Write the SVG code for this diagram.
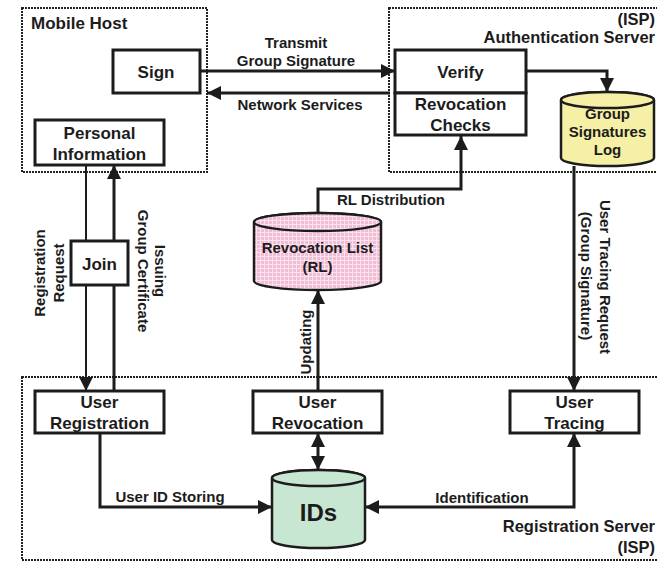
<svg xmlns="http://www.w3.org/2000/svg" width="657" height="561" viewBox="0 0 657 561">
<style>
text{font-family:"Liberation Sans",Arial,sans-serif;font-weight:bold;fill:#1c1c1c}
.n{font-size:17px;text-anchor:middle}
.l{font-size:15px;text-anchor:middle}
.t{font-size:17px}
.r{font-size:16.5px;text-anchor:end}
.box{fill:#fff;stroke:#1c1c1c;stroke-width:3}
.zone{fill:none;stroke:#222;stroke-width:2;stroke-dasharray:2 1}
.c{fill:none;stroke:#1c1c1c;stroke-width:3}
.cyl{stroke:#1c1c1c;stroke-width:2.5}
</style>
<defs>
<marker id="ah" markerUnits="userSpaceOnUse" markerWidth="14" markerHeight="14" refX="12" refY="6" orient="auto-start-reverse" viewBox="0 0 12 12">
<path d="M0,0 L12,6 L0,12 z" fill="#1c1c1c"/>
</marker>
<pattern id="grid" width="4" height="4" patternUnits="userSpaceOnUse">
<rect width="4" height="4" fill="#f0bcd6"/>
<path d="M0,0.5 H4 M0.5,0 V4" stroke="#fbe3ee" stroke-width="1"/>
</pattern>
</defs>

<g id="zones">
<rect id="mobile-host" class="zone" x="22" y="8" width="185" height="164"/>
<rect id="auth-server" class="zone" x="389" y="8" width="320" height="164"/>
<rect id="reg-server" class="zone" x="22" y="377" width="700" height="183"/>
<text class="t" x="31" y="29">Mobile Host</text>
<text class="r" x="655" y="25">(ISP)</text>
<text class="r" x="655" y="43">Authentication Server</text>
<text class="r" x="655" y="532">Registration Server</text>
<text class="r" x="655" y="553">(ISP)</text>
</g>

<g id="connectors">
<path class="c" d="M200,71 H395" marker-end="url(#ah)"/>
<path class="c" d="M390,93 H207" marker-end="url(#ah)"/>
<path class="c" d="M526,71 H607 V92" marker-end="url(#ah)"/>
<path class="c" d="M318,213 V189 H461 V136" marker-end="url(#ah)"/>
<path class="c" d="M318,391 V290" marker-end="url(#ah)"/>
<path class="c" style="stroke-width:2" d="M86,165 V391" marker-end="url(#ah)"/>
<path class="c" d="M114,391 V165" marker-end="url(#ah)"/>
<path class="c" d="M318,433 V470" marker-start="url(#ah)" marker-end="url(#ah)"/>
<path class="c" d="M100,433 V507 H272" marker-end="url(#ah)"/>
<path class="c" d="M365,507 H574 V433" marker-start="url(#ah)" marker-end="url(#ah)"/>
<path class="c" d="M574,166 V391" marker-end="url(#ah)"/>
<text class="l" x="296" y="48">Transmit</text>
<text class="l" x="296" y="66">Group Signature</text>
<text class="l" x="300" y="110">Network Services</text>
<text class="l" x="391" y="205">RL Distribution</text>
<text class="l" transform="translate(311,342) rotate(-90)">Updating</text>
<text class="l" transform="translate(45,273) rotate(-90)">Registration</text>
<text class="l" transform="translate(64,273) rotate(-90)">Request</text>
<text class="l" transform="translate(155,271) rotate(90)">Issuing</text>
<text class="l" transform="translate(138,271) rotate(90)">Group Certificate</text>
<text class="l" transform="translate(600,277) rotate(90)">User Tracing Request</text>
<text class="l" transform="translate(581,276) rotate(90)">(Group Signature)</text>
<text class="l" x="170" y="502">User ID Storing</text>
<text class="l" x="482" y="503">Identification</text>
</g>

<g id="sign"><rect class="box" x="113" y="50" width="87" height="43"/><text class="n" x="156" y="78">Sign</text></g>
<g id="personal-information"><rect class="box" x="35" y="120" width="129" height="45"/><text class="n" x="99.5" y="139">Personal</text><text class="n" x="99.5" y="160">Information</text></g>
<g id="verify"><rect class="box" x="395" y="50" width="131" height="43"/><text class="n" x="460.5" y="78">Verify</text></g>
<g id="revocation-checks"><rect class="box" x="395" y="93" width="131" height="42"/><text class="n" x="460.5" y="110">Revocation</text><text class="n" x="460.5" y="131">Checks</text></g>
<g id="group-signatures-log">
<path class="cyl" fill="#f6efa6" d="M561,100 V158 A46.5,8 0 0 0 654,158 V100 A46.5,8 0 0 0 561,100 Z"/>
<ellipse class="cyl" fill="#f6efa6" cx="607.5" cy="100" rx="46.5" ry="8"/>
<text class="l" x="607.5" y="119">Group</text><text class="l" x="607.5" y="137">Signatures</text><text class="l" x="607.5" y="155">Log</text>
</g>
<g id="join"><rect class="box" x="71" y="241" width="57" height="44"/><text class="n" x="99.5" y="270">Join</text></g>
<g id="revocation-list">
<path class="cyl" fill="url(#grid)" d="M254,222 V281 A63.5,9 0 0 0 381,281 V222 A63.5,9 0 0 0 254,222 Z"/>
<ellipse class="cyl" fill="url(#grid)" cx="317.5" cy="222" rx="63.5" ry="9"/>
<text class="l" x="317.5" y="253">Revocation List</text><text class="l" x="317.5" y="272">(RL)</text>
</g>
<g id="user-registration"><rect class="box" x="35" y="391" width="129" height="42"/><text class="n" x="99.5" y="408">User</text><text class="n" x="99.5" y="429">Registration</text></g>
<g id="user-revocation"><rect class="box" x="253" y="391" width="129" height="42"/><text class="n" x="317.5" y="408">User</text><text class="n" x="317.5" y="429">Revocation</text></g>
<g id="user-tracing"><rect class="box" x="510" y="391" width="129" height="42"/><text class="n" x="574.5" y="408">User</text><text class="n" x="574.5" y="429">Tracing</text></g>
<g id="ids">
<path class="cyl" fill="#c8e7d3" d="M272,478 V540 A46.5,8 0 0 0 365,540 V478 A46.5,8 0 0 0 272,478 Z"/>
<ellipse class="cyl" fill="#c8e7d3" cx="318.5" cy="478" rx="46.5" ry="8"/>
<text x="318.5" y="521" style="font-size:24px;text-anchor:middle">IDs</text>
</g>
</svg>
